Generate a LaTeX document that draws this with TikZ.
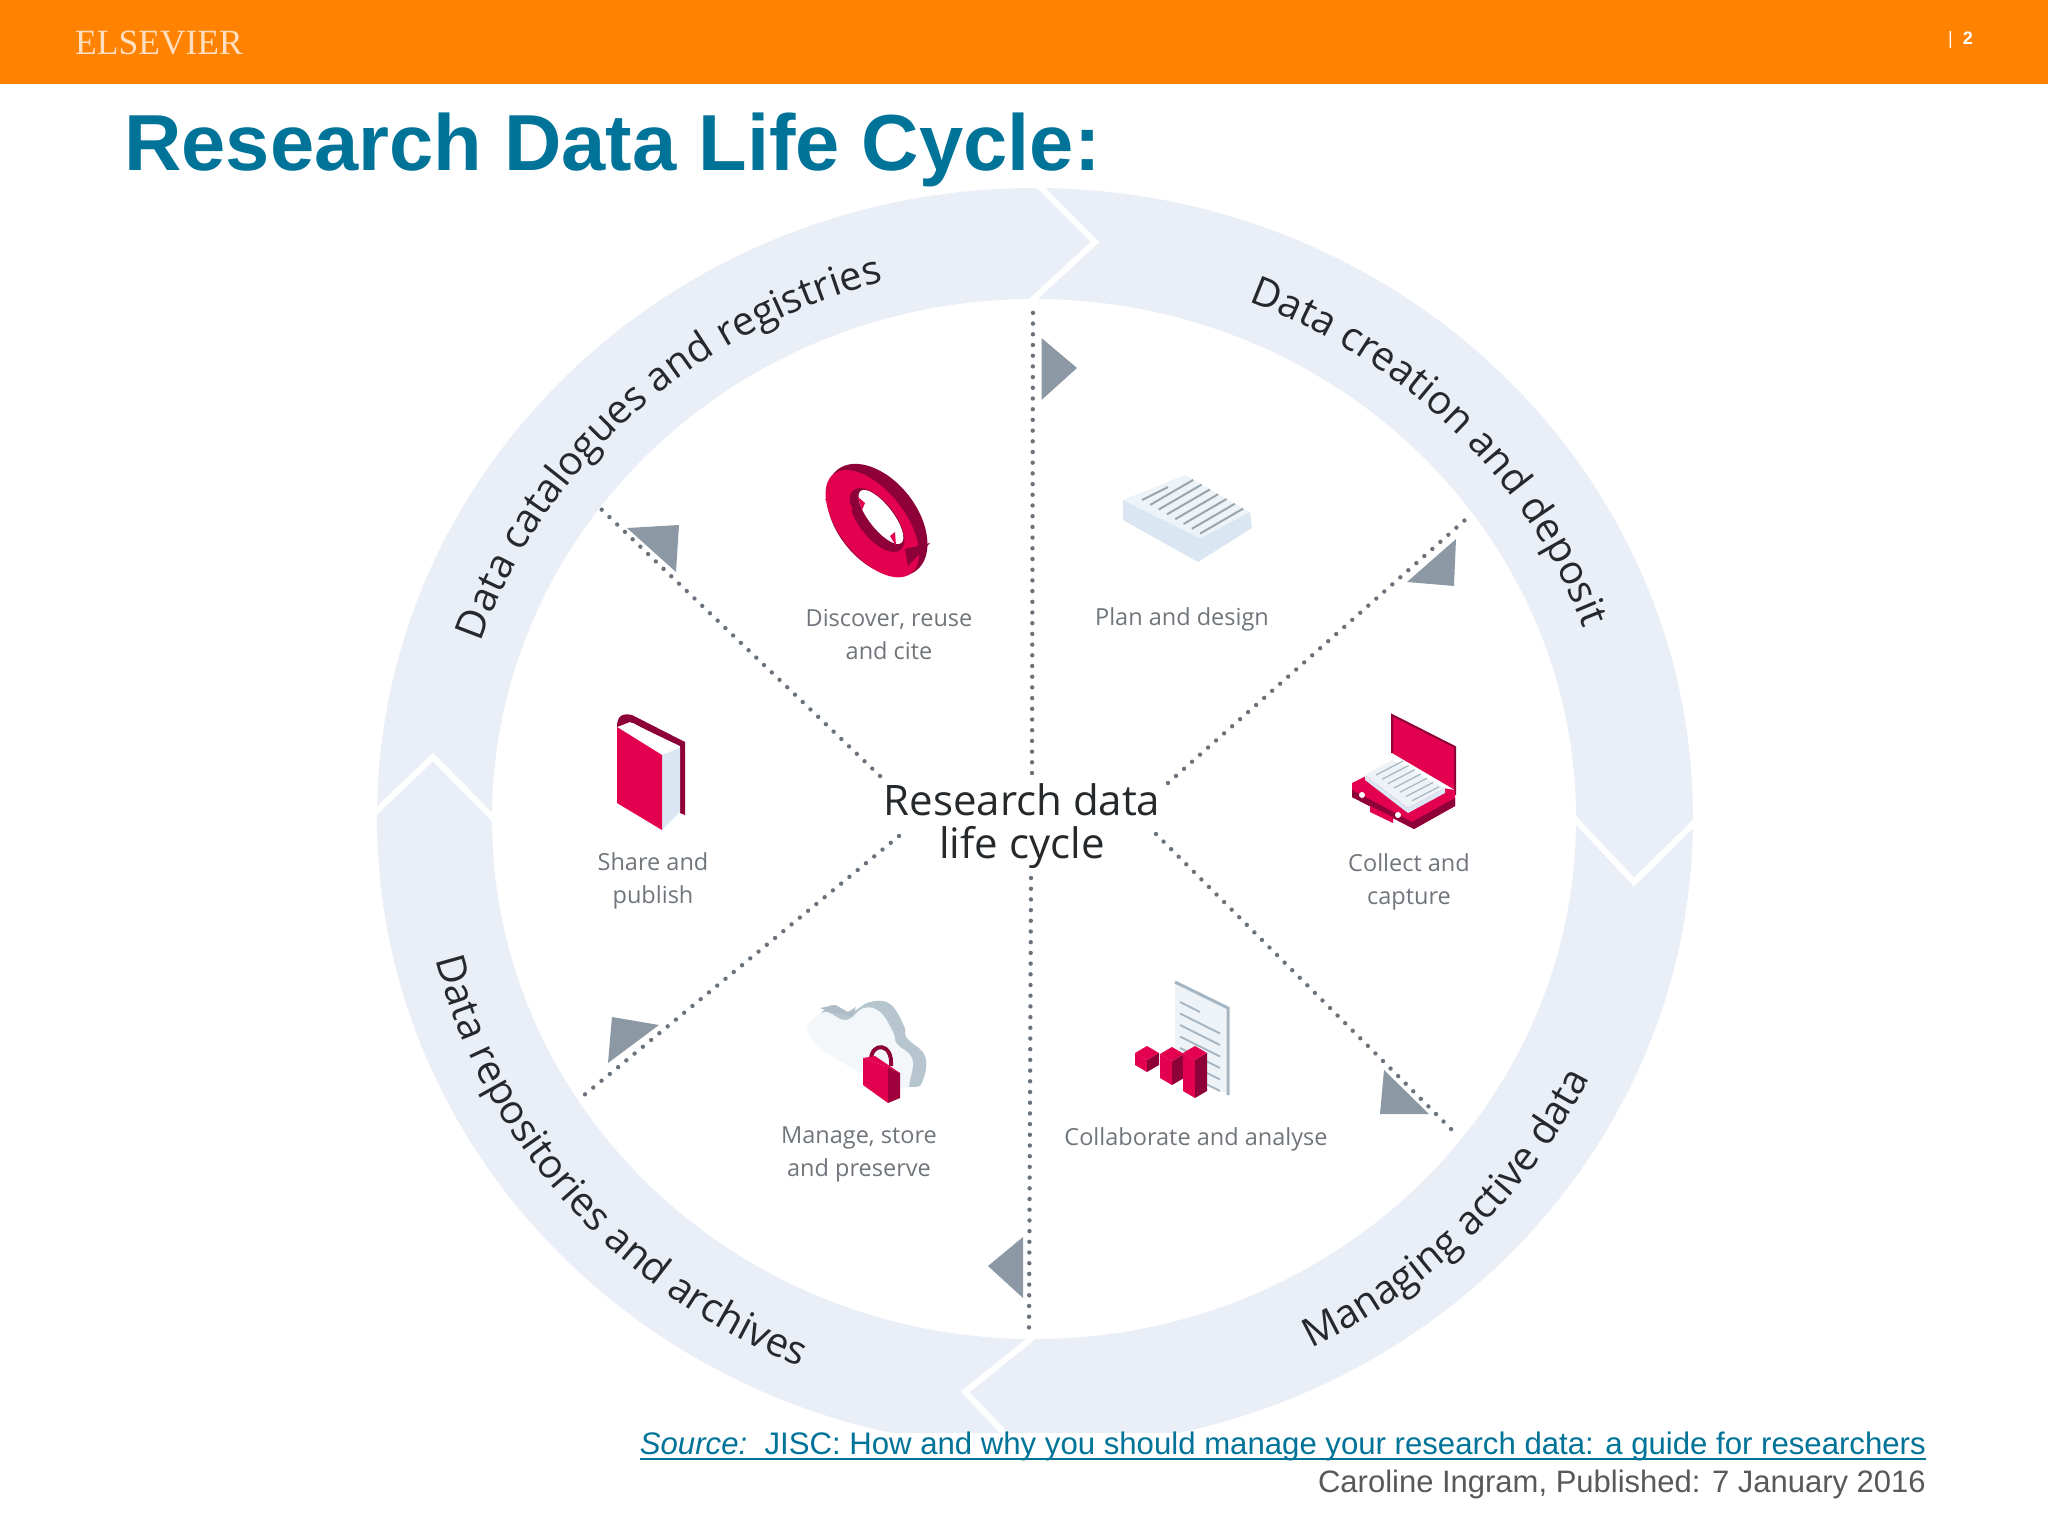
\documentclass[tikz,border=0pt]{standalone}
\usepackage{fontspec}
\usetikzlibrary{decorations.text}
\setmainfont{Liberation Sans}
\newfontfamily\wheelfont{Open Sans}
\newfontfamily\logofont{Liberation Serif}
\definecolor{barorange}{HTML}{FF8200}
\definecolor{elsblue}{HTML}{007398}
\definecolor{ringblue}{HTML}{EAEEF7}
\definecolor{ink}{HTML}{25292C}
\definecolor{steptext}{HTML}{6F757A}
\definecolor{wedgegrey}{HTML}{8C98A3}
\definecolor{dotgrey}{HTML}{6A737B}
\definecolor{crimson}{HTML}{E2004F}
\definecolor{wine}{HTML}{8E0038}
\definecolor{palepaper}{HTML}{EEF3F8}
\definecolor{paleside}{HTML}{DAE6F1}
\definecolor{slateline}{HTML}{A5B6C2}
\newcommand{\ringtype}{\wheelfont\fontsize{40}{40}\selectfont}
\tikzset{
  steplabel/.style={font=\wheelfont\fontsize{23.5}{33}\selectfont,text=steptext,align=center},
  spoke/.style={dotgrey,line width=4.4pt,line cap=round,dash pattern=on 0pt off 10.7pt},
  wedge/.style={fill=wedgegrey},
  chevron/.style={white,line width=6pt,line join=miter},
  ringtext/.style={decorate,decoration={text along path,text align=center,text color=ink,text={|\ringtype|#1}}}
}
\begin{document}
\begin{tikzpicture}[x=1pt,y=1pt]
  \useasboundingbox (0,0) rectangle (2048,-1536);

  % Header strip and title.
  \fill[barorange] (0,0) rectangle (2048,-84);
  \node[anchor=base west,inner sep=0pt,text=orange!25!white,font=\logofont\fontsize{35.5}{35}\selectfont] (logo) at (75,-55) {ELSEVIER};
  \node[anchor=base east,inner sep=0pt,text=white,font=\fontsize{18}{18}\selectfont\bfseries] (pagenum) at (1973,-45) {\textmd{|}\ \ 2};
  \node[anchor=base west,inner sep=0pt,text=elsblue,font=\fontsize{79.5}{80}\selectfont\bfseries] (title) at (124,-170) {Research Data Life Cycle:};

  % Ring of four arrows.
  \fill[ringblue,even odd rule] (1035,-818) ellipse[x radius=658,y radius=630] (1034,-819) ellipse[x radius=542,y radius=520];
  \draw[chevron] (1033,-180) -- (1095,-242) -- (1028,-304);
  \draw[chevron] (1568,-812) -- (1634,-882) -- (1700,-817);
  \draw[chevron] (367,-820) -- (433,-757) -- (500,-825);
  \draw[chevron] (1037,-1334) -- (965,-1392) -- (1016,-1445);

  % Titles along the ring.
  \path[ringtext={Data catalogues and registries}] ({1035+584*cos(170.5)},{-818+555*sin(170.5)}) arc[start angle=170.5,end angle=96.5,x radius=584,y radius=555];
  \path[ringtext={Data creation and deposit}] ({1035+584*cos(80)},{-818+555*sin(80)}) arc[start angle=80,end angle=8,x radius=584,y radius=555];
  \path[ringtext={Managing active data}] ({1035+617*cos(-76.5)},{-818+593*sin(-76.5)}) arc[start angle=-76.5,end angle=-12.5,x radius=617,y radius=593];
  \path[ringtext={Data repositories and archives}] ({1035+617*cos(181.5)},{-818+593*sin(181.5)}) arc[start angle=181.5,end angle=259.5,x radius=617,y radius=593];

  % Centre and spokes.
  \node[font=\wheelfont\fontsize{42}{43}\selectfont,text=ink,align=center,inner sep=0pt] (hub) at (1022,-826) {Research data\\life cycle};
  \coordinate (upA) at (1033,-303);   \coordinate (upB) at (1032,-773);
  \coordinate (neA) at (1465,-520);   \coordinate (neB) at (1168,-783);
  \coordinate (seA) at (1452,-1130);  \coordinate (seB) at (1156,-834);
  \coordinate (dnA) at (1029,-1330);  \coordinate (dnB) at (1031,-878);
  \coordinate (swA) at (583,-1096);   \coordinate (swB) at (899,-836);
  \coordinate (nwA) at (601,-509);    \coordinate (nwB) at (880,-776);
  \foreach \s in {up,ne,se,dn,sw,nw}
    \draw[spoke] (\s B) -- (\s A);

  \fill[wedge] (1041.5,-338) -- (1077,-368) -- (1041.5,-400) -- cycle;
  \fill[wedge] (1456,-539) -- (1454,-586) -- (1407,-582) -- cycle;
  \fill[wedge] (1384,-1070) -- (1429,-1114) -- (1380,-1114) -- cycle;
  \fill[wedge] (1023,-1237) -- (988,-1266) -- (1023,-1298) -- cycle;
  \fill[wedge] (659,-1025) -- (608,-1063) -- (612,-1017) -- cycle;
  \fill[wedge] (627,-528) -- (679,-525) -- (676,-572) -- cycle;

  % Step labels.
  \node[steplabel] (discover) at (889,-634) {Discover, reuse\\and cite};
  \node[steplabel] (plan) at (1182,-619) {Plan and design};
  \node[steplabel] (collect) at (1409,-882) {Collect and\\capture};
  \node[steplabel] (collab) at (1196,-1139) {Collaborate and analyse};
  \node[steplabel] (manage) at (859,-1154) {Manage, store\\and preserve};
  \node[steplabel] (share) at (653,-881) {Share and\\publish};

  % Recycling ring.
  \begin{scope}[rotate around={-52:(877,-520)}]
    \fill[wine] (877,-520) ellipse[x radius=64,y radius=40];
    \fill[crimson] (877,-526) ellipse[x radius=63,y radius=33];
    \fill[wine] (877,-520) ellipse[x radius=38,y radius=18];
    \fill[white] (877,-515) ellipse[x radius=33,y radius=12];
  \end{scope}
  \fill[crimson] (825,-500) -- (840,-480) -- (853,-510) -- cycle;
  \fill[wine] (930,-543) -- (908,-566) -- (905,-549) -- cycle;
  \fill[crimson] (858,-497) -- (865,-503) -- (862,-510) -- cycle;
  \fill[crimson] (896,-546) -- (890,-536) -- (895,-532) -- cycle;

  % Paper stack.
  \fill[paleside] (1123,-500) -- (1200,-538) -- (1250,-512) -- (1252,-528) -- (1198,-562) -- (1123,-520) -- cycle;
  \fill[palepaper] (1123,-500) -- (1185,-475) -- (1250,-512) -- (1200,-538) -- cycle;
  \draw[slateline!70!gray,line width=2pt] (1142,-500) -- (1168,-487);
  \foreach \i in {1,...,7}
    \draw[slateline!70!gray,line width=2pt] ({1142+8.3*\i},{-500-4.8*\i}) -- ++(43,25);

  % Briefcase.
  \fill[crimson] (1392,-715) -- (1455,-747) -- (1455,-790) -- (1392,-753) -- cycle;
  \draw[wine,line width=2pt] (1392,-753) -- (1392,-715) -- (1455,-747) -- (1455,-795);
  \fill[crimson] (1352,-783) -- (1366,-776) -- (1455,-790) -- (1455,-806) -- (1414,-829) -- (1352,-797) -- cycle;
  \fill[wine] (1352,-790) -- (1412,-822) -- (1455,-798) -- (1455,-806) -- (1414,-829) -- (1352,-797) -- cycle;
  \fill[crimson] (1370,-806) -- (1393,-817) -- (1393,-823) -- (1370,-812) -- cycle;
  \fill[white] (1362,-795) circle[radius=3];
  \fill[white] (1398,-815) circle[radius=3];
  \fill[paleside] (1365,-775) -- (1408,-808) -- (1445,-788) -- (1445,-793) -- (1408,-813) -- (1365,-780) -- cycle;
  \fill[palepaper] (1365,-775) -- (1392,-760) -- (1445,-788) -- (1408,-808) -- cycle;
  \foreach \i in {0,...,6}
    \draw[slateline,line width=1.2pt] ({1376+6*\i},{-775-4.3*\i}) -- ++(27,14);

  % Document and bars.
  \fill[palepaper] (1175,-982) -- (1228,-1008) -- (1228,-1095) -- (1175,-1067) -- cycle;
  \draw[slateline,line width=3pt] (1175,-982) -- (1228,-1008) -- (1228,-1095);
  \draw[slateline,line width=2pt] (1180,-1002) -- (1200,-1012);
  \foreach \i in {1,...,6}
    \draw[slateline,line width=2pt] (1180,{-1002-11.5*\i}) -- ++(40,-20);
  \foreach \cx/\ct/\cb in {1147/1053/1072,1172/1054/1085,1195/1053/1098} {
    \fill[crimson] ({\cx-12},{-\ct}) -- (\cx,{-\ct-7}) -- (\cx,{-\cb}) -- ({\cx-12},{-\cb+7}) -- cycle;
    \fill[wine] ({\cx+12},{-\ct}) -- (\cx,{-\ct-7}) -- (\cx,{-\cb}) -- ({\cx+12},{-\cb+7}) -- cycle;
    \fill[crimson] ({\cx-12},{-\ct}) -- (\cx,{-\ct+7}) -- ({\cx+12},{-\ct}) -- (\cx,{-\ct-7}) -- cycle;
  }

  % Cloud and padlock.
  \fill[slateline!80!white] plot[smooth cycle,tension=0.7] coordinates {(815,-1020) (832,-1005) (850,-1012) (870,-1002) (890,-1004) (904,-1026) (907,-1038) (925,-1056) (923,-1080) (913,-1087) (885,-1080) (825,-1050) (808,-1030)};
  \fill[palepaper!70!white] plot[smooth cycle,tension=0.7] coordinates {(811,-1022) (825,-1012) (846,-1020) (864,-1008) (880,-1012) (893,-1032) (897,-1044) (912,-1058) (910,-1080) (905,-1088) (880,-1082) (825,-1052) (808,-1032)};
  \fill[slateline!90!white] (820,-1008) -- (835,-1005) -- (848,-1012) -- (856,-1007) -- (852,-1016) -- (840,-1014) -- (830,-1012) -- cycle;
  \draw[wine,line width=4pt] (871,-1060) .. controls (871,-1042) and (893,-1042) .. (891,-1066);
  \fill[crimson] (863,-1058) -- (888,-1067) -- (888,-1103) -- (863,-1085) -- cycle;
  \fill[wine!80!crimson] (888,-1067) -- (900,-1073) -- (900,-1098) -- (888,-1103) -- cycle;
  \fill[crimson] (863,-1058) -- (875,-1056) -- (900,-1073) -- (888,-1067) -- cycle;

  % Book.
  \fill[wine] (617,-727) .. controls (617,-716) and (622,-713) .. (632,-715) -- (685,-742) -- (685,-815) -- (680,-813) -- (680,-746) -- (630,-722) -- cycle;
  \fill[white] (625,-728) -- (633,-723) -- (678,-748) -- (662,-755) -- cycle;
  \fill[paleside] (662,-755) -- (680,-748) -- (680,-812) -- (662,-830) -- cycle;
  \fill[crimson] (617,-727) -- (662,-755) -- (662,-830) -- (617,-803) -- cycle;

  % Source lines.
  \fill[white] (636,-1433) rectangle (1930,-1500);
  \node[anchor=base east,inner sep=0pt,text=elsblue,font=\fontsize{31.15}{31}\selectfont] (source) at (1926,-1454) {\textit{Source:}\ \ JISC: How and why you should manage your research data: a guide for researchers};
  \draw[elsblue,line width=2pt] ([yshift=-5pt]source.base west) -- ([yshift=-5pt]source.base east);
  \node[anchor=base east,inner sep=0pt,text=black!65,font=\fontsize{31}{31}\selectfont] (author) at (1926,-1492) {Caroline Ingram, Published: 7 January 2016};
\end{tikzpicture}
\end{document}
